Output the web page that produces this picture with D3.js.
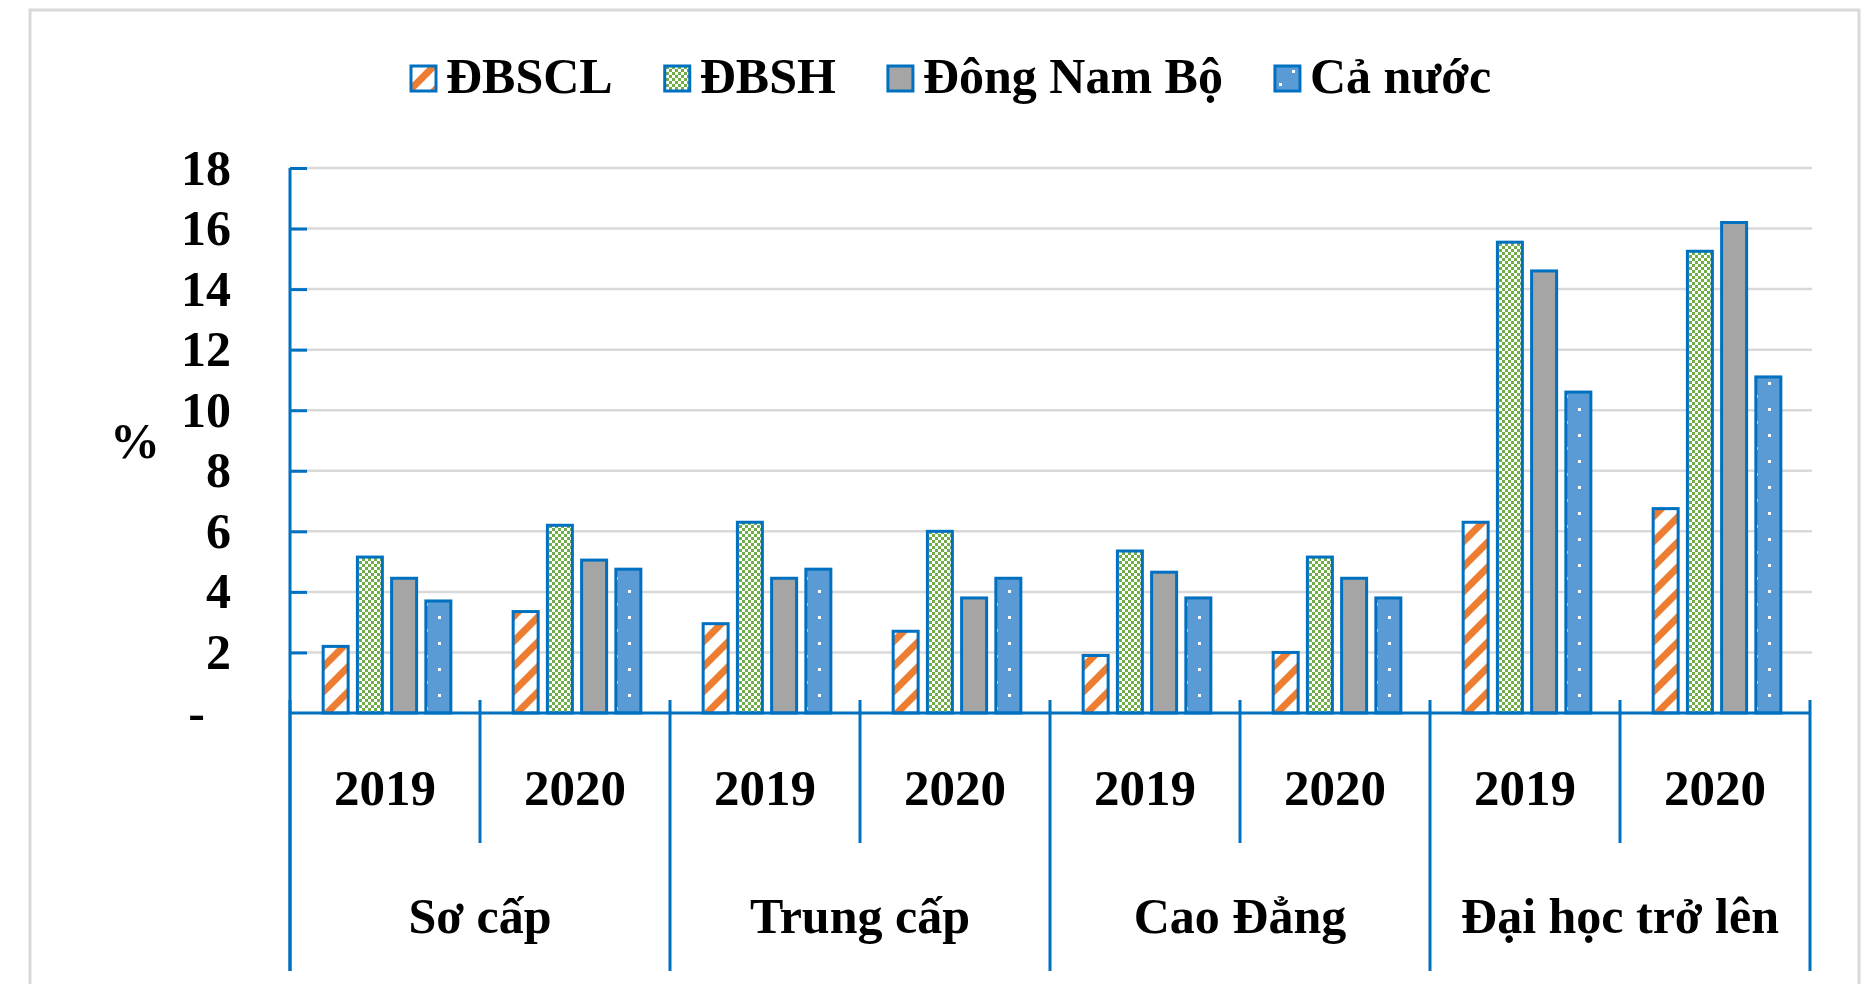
<!DOCTYPE html>
<html>
<head>
<meta charset="utf-8">
<script src="https://cdn.jsdelivr.net/npm/d3@7"></script>
<style>
  body { margin: 0; background: #fff; }
  text { font-family: "Liberation Serif", "Times New Roman", serif; font-weight: bold; fill: #000; }
</style>
</head>
<body>
<div id="chart"></div>
<script>
// Categories and years on the two-level x axis
const levels = ["Sơ cấp", "Trung cấp", "Cao Đẳng", "Đại học trở lên"];
const years = ["2019", "2020"];

// Series names (legend order)
const seriesNames = ["ĐBSCL", "ĐBSH", "Đông Nam Bộ", "Cả nước"];

// Values in %, one per level/year group (Sơ cấp 2019, Sơ cấp 2020, Trung cấp 2019, ...)
const dbscl   = [2.2, 3.35, 2.95, 2.7, 1.9, 2.0, 6.3, 6.75];
const dbsh    = [5.15, 6.2, 6.3, 6.0, 5.35, 5.15, 15.55, 15.25];
const dongNam = [4.45, 5.05, 4.45, 3.8, 4.65, 4.45, 14.6, 16.2];
const caNuoc  = [3.7, 4.75, 4.75, 4.45, 3.8, 3.8, 10.6, 11.1];

const yTicks = [0, 2, 4, 6, 8, 10, 12, 14, 16, 18];

const seriesValues = [dbscl, dbsh, dongNam, caNuoc];

// Build groups
const groups = [];
levels.forEach(l => years.forEach(y => groups.push({ level: l, year: y, key: l + "|" + y })));
groups.forEach((g, i) => {
  g.values = seriesNames.map((s, j) => ({ series: s, value: seriesValues[j][i] }));
});

const W = 1871, H = 984;
const plotLeft = 290, plotRight = 1810, plotTop = 168, base = 713;

const svg = d3.select("#chart").append("svg")
  .attr("width", W)
  .attr("height", H);

// Patterns
const defs = svg.append("defs");

const stripe = defs.append("pattern")
  .attr("id", "p-stripe")
  .attr("patternUnits", "userSpaceOnUse")
  .attr("width", 25).attr("height", 25);
stripe.append("rect").attr("width", 25).attr("height", 25).attr("fill", "#fff");
stripe.append("path")
  .attr("d", "M0,25 L25,0 M-5,5 L5,-5 M20,30 L30,20")
  .attr("stroke", "#ed7d31")
  .attr("stroke-width", 7);

const checker = defs.append("pattern")
  .attr("id", "p-check")
  .attr("patternUnits", "userSpaceOnUse")
  .attr("width", 6).attr("height", 6);
checker.append("rect").attr("width", 6).attr("height", 6).attr("fill", "#fff");
checker.append("rect").attr("width", 3).attr("height", 3).attr("fill", "#70ad47");
checker.append("rect").attr("x", 3).attr("y", 3).attr("width", 3).attr("height", 3).attr("fill", "#70ad47");

const dots = defs.append("pattern")
  .attr("id", "p-dots")
  .attr("patternUnits", "userSpaceOnUse")
  .attr("width", 26).attr("height", 26);
dots.append("rect").attr("width", 26).attr("height", 26).attr("fill", "#5b9bd5");
dots.append("rect").attr("x", 5).attr("y", 5).attr("width", 3).attr("height", 3).attr("fill", "#fff");
dots.append("rect").attr("x", 18).attr("y", 18).attr("width", 3).attr("height", 3).attr("fill", "#fff");

const fills = d3.scaleOrdinal()
  .domain(seriesNames)
  .range(["url(#p-stripe)", "url(#p-check)", "#a5a5a5", "url(#p-dots)"]);

const axisBlue = "#0070c0";

// Outer frame
svg.append("rect")
  .attr("x", 30).attr("y", 10)
  .attr("width", 1829).attr("height", 1000)
  .attr("fill", "none")
  .attr("stroke", "#d9d9d9")
  .attr("stroke-width", 3);

// Scales
const x0 = d3.scaleBand()
  .domain(groups.map(g => g.key))
  .range([plotLeft, plotRight])
  .padding(0);

const x1 = d3.scaleBand()
  .domain(seriesNames)
  .range([2, x0.bandwidth() + 2])
  .paddingInner(0.27)
  .paddingOuter(0.91);

const y = d3.scaleLinear()
  .domain([0, 18])
  .range([base, plotTop]);

// Gridlines
svg.append("g")
  .selectAll("line")
  .data(yTicks.filter(d => d > 0))
  .enter().append("line")
  .attr("x1", plotLeft).attr("x2", plotRight + 2)
  .attr("y1", d => y(d)).attr("y2", d => y(d))
  .attr("stroke", "#d9d9d9")
  .attr("stroke-width", 2.5);

// Y axis labels
const yAxis = svg.append("g")
  .attr("transform", `translate(${plotLeft},0)`)
  .call(d3.axisLeft(y).tickValues(yTicks).tickSize(0).tickPadding(59)
    .tickFormat(d => d === 0 ? "-" : d));
yAxis.select(".domain").remove();
yAxis.selectAll("text")
  .attr("fill", "#000")
  .style("font-size", "50px")
  .style("font-family", "'Liberation Serif', serif")
  .style("font-weight", "bold")
  .attr("dx", d => d === 0 ? -26 : 0);

// Inner ticks on y axis
const yTicksIn = svg.append("g")
  .attr("transform", `translate(${plotLeft},0)`)
  .call(d3.axisRight(y).tickValues(yTicks.filter(d => d > 0)).tickSize(17).tickFormat(""));
yTicksIn.select(".domain").remove();
yTicksIn.selectAll("line").attr("stroke", axisBlue).attr("stroke-width", 3);

// Bars
const groupSel = svg.append("g")
  .selectAll("g")
  .data(groups)
  .enter().append("g")
  .attr("transform", d => `translate(${x0(d.key)},0)`);

groupSel.selectAll("rect")
  .data(d => d.values)
  .enter().append("rect")
  .attr("x", d => x1(d.series))
  .attr("y", d => y(d.value))
  .attr("width", x1.bandwidth())
  .attr("height", d => base - y(d.value))
  .attr("fill", d => fills(d.series))
  .attr("stroke", axisBlue)
  .attr("stroke-width", 3);

// X axis baseline and y axis line
svg.append("line")
  .attr("x1", plotLeft).attr("x2", plotRight)
  .attr("y1", base).attr("y2", base)
  .attr("stroke", axisBlue).attr("stroke-width", 3);

svg.append("line")
  .attr("x1", plotLeft).attr("x2", plotLeft)
  .attr("y1", plotTop).attr("y2", 971)
  .attr("stroke", axisBlue).attr("stroke-width", 3);

// Group separators (year level short, category level long)
const bounds = d3.range(groups.length + 1);
svg.append("g")
  .selectAll("line")
  .data(bounds)
  .enter().append("line")
  .attr("x1", i => plotLeft + i * x0.step())
  .attr("x2", i => plotLeft + i * x0.step())
  .attr("y1", 700)
  .attr("y2", i => i % 2 === 0 ? 971 : 843)
  .attr("stroke", axisBlue)
  .attr("stroke-width", 3);

// Year labels
svg.append("g")
  .selectAll("text")
  .data(groups)
  .enter().append("text")
  .attr("x", d => x0(d.key) + x0.bandwidth() / 2)
  .attr("y", 805)
  .attr("text-anchor", "middle")
  .style("font-size", "51px")
  .text(d => d.year);

// Level labels
svg.append("g")
  .selectAll("text")
  .data(levels)
  .enter().append("text")
  .attr("x", l => x0(l + "|2019") + x0.bandwidth())
  .attr("y", 933)
  .attr("text-anchor", "middle")
  .style("font-size", "50px")
  .text(l => l);

// Y axis title
svg.append("text")
  .attr("x", 135)
  .attr("y", 458)
  .attr("text-anchor", "middle")
  .style("font-size", "50px")
  .text("%");

// Legend
const legend = svg.append("g");
let lx = 411;
seriesNames.forEach(s => {
  legend.append("rect")
    .attr("x", lx).attr("y", 66)
    .attr("width", 25).attr("height", 25)
    .attr("fill", fills(s))
    .attr("stroke", axisBlue)
    .attr("stroke-width", 3);
  const t = legend.append("text")
    .attr("x", lx + 35)
    .attr("y", 93)
    .style("font-size", "50px")
    .text(s);
  lx += 35 + t.node().getComputedTextLength() + 52;
});
</script>
</body>
</html>
